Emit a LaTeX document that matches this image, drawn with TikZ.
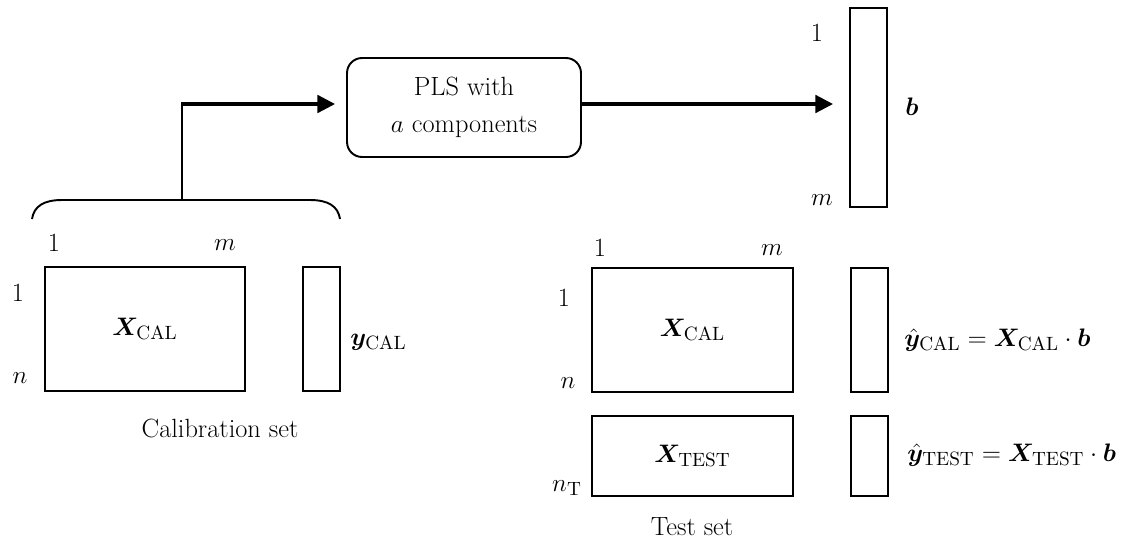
\documentclass[tikz,border=0pt]{standalone}
\usepackage{amsmath,bm}
\usetikzlibrary{arrows.meta}
\begin{document}
\begin{tikzpicture}[x=0.02cm,y=-0.02cm,
  font=\fontsize{15}{21}\selectfont,
  mat/.style={draw, line width=1.1pt, inner sep=0pt, outer sep=0pt},
  flow/.style={line width=1.8pt, -{Triangle[length=10pt,width=10pt]}},
  lbl/.style={inner sep=0pt}]
\useasboundingbox (0,0) rectangle (1125,542);

% calibration set
\node[mat, minimum width=4cm, minimum height=2.48cm] (calX) at (145,329) {$\bm{X}_{\mathrm{CAL}}$};
\node[mat, minimum width=0.74cm, minimum height=2.48cm] (calY) at (321.5,329) {};
\node[lbl] (c1) at (54,243) {1};
\node[lbl] (cm) at (225,245) {$m$};
\node[lbl] (r1) at (18,293) {1};
\node[lbl] (rn) at (20,378) {$n$};
\node[lbl, anchor=west] (ycal) at (350,342) {$\bm{y}_{\mathrm{CAL}}$};
\node[lbl] (caltitle) at (220,428) {Calibration set};

% brace over the calibration data
\coordinate (brace) at (182,200);
\draw[line width=1.1pt] (32,219) .. controls (34,206) and (44,200) .. (62,200)
  -- (310,200) .. controls (328,200) and (338,206) .. (340,219);

% PLS model
\node[draw, line width=1.1pt, rounded corners=0.3cm, minimum width=4.68cm,
  minimum height=1.98cm, align=center, inner sep=0pt, outer sep=0pt]
  (pls) at (464,107.5) {PLS with\\$a$ components};

% regression vector
\node[mat, minimum width=0.74cm, minimum height=3.98cm] (bvec) at (868.5,107.5) {};
\node[lbl] (b1) at (817,33) {1};
\node[lbl] (bm) at (822,200) {$m$};
\node[lbl] (blab) at (912,107) {$\bm{b}$};

% flow: calibration data -> PLS -> b
\coordinate (plsin) at ([yshift=0.07cm]pls.west);
\coordinate (plsout) at ([yshift=0.07cm]pls.east);
\coordinate (corner) at (brace |- plsin);
\draw[line width=1.1pt] (brace) -- ([yshift=-0.5pt]corner);
\draw[flow, shorten >=0.24cm] ([xshift=-0.55pt]corner) -- (plsin);
\draw[flow, shorten >=0.34cm] (plsout) -- (plsout -| bvec.west);

% test set
\node[mat, minimum width=4.02cm, minimum height=2.48cm] (tX) at (692.5,330) {$\bm{X}_{\mathrm{CAL}}$};
\node[mat, minimum width=0.74cm, minimum height=2.48cm] (tY) at (869.5,330) {};
\node[mat, minimum width=4.02cm, minimum height=1.6cm] (tXT) at (692.5,456) {$\bm{X}_{\mathrm{TEST}}$};
\node[mat, minimum width=0.74cm, minimum height=1.6cm] (tYT) at (869.5,456) {};
\node[lbl] (t1) at (600,248) {1};
\node[lbl] (tm) at (772,250) {$m$};
\node[lbl] (tr1) at (564,298) {1};
\node[lbl] (trn) at (568,383) {$n$};
\node[lbl] (trnT) at (567,488) {$n_{\mathrm{T}}$};
\node[lbl] (testtitle) at (692,527) {Test set};
\node[lbl, anchor=west] (f1) at (904,340) {$\hat{\bm{y}}_{\mathrm{CAL}} = \bm{X}_{\mathrm{CAL}}\cdot \bm{b}$};
\node[lbl, anchor=west] (f2) at (907,455) {$\hat{\bm{y}}_{\mathrm{TEST}} = \bm{X}_{\mathrm{TEST}}\cdot \bm{b}$};
\end{tikzpicture}
\end{document}
